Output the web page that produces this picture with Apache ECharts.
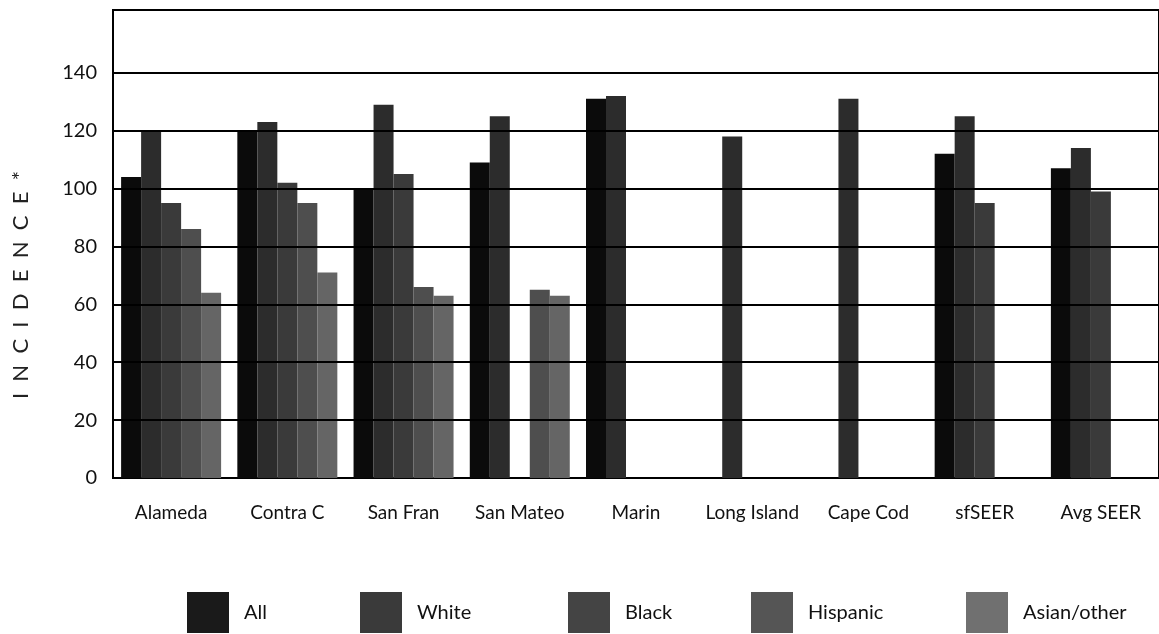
<!DOCTYPE html>
<html>
<head>
<meta charset="utf-8">
<script src="https://cdn.jsdelivr.net/npm/echarts@6/dist/echarts.min.js"></script>
<style>
html,body{margin:0;padding:0;background:#fff;}
#chart{width:1159px;height:634px;}
</style>
</head>
<body>
<div id="chart"></div>
<script>
const categories = ['Alameda', 'Contra C', 'San Fran', 'San Mateo', 'Marin', 'Long Island', 'Cape Cod', 'sfSEER', 'Avg SEER'];
const seriesNames = ['All', 'White', 'Black', 'Hispanic', 'Asian/other'];
const allVals      = [104, 120, 100, 109, 131, null, null, 112, 107];
const whiteVals    = [120, 123, 129, 125, 132, 118, 131, 125, 114];
const blackVals    = [95, 102, 105, null, null, null, null, 95, 99];
const hispanicVals = [86, 95, 66, 65, null, null, null, null, null];
const asianVals    = [64, 71, 63, 63, null, null, null, null, null];
const gridTicks    = [20, 40, 60, 80, 100, 120, 140];
const yTickLabels  = [0, 20, 40, 60, 80, 100, 120, 140];

const seriesData = [allVals, whiteVals, blackVals, hispanicVals, asianVals];
const colors = ['#0b0b0b', '#2c2c2c', '#3a3a3a', '#4e4e4e', '#656565'];
const legendColors = ['#1a1a1a', '#3a3a3a', '#444444', '#555555', '#707070'];
const legendLeft = [182, 355, 563, 746, 961];

const chart = echarts.init(document.getElementById('chart'));
const font = 'Lato, "Open Sans", sans-serif';

const series = seriesNames.map((name, i) => ({
  name: name,
  type: 'bar',
  data: seriesData[i].map(v => v === null ? '-' : v),
  barWidth: 20,
  barGap: '0%',
  itemStyle: { color: colors[i] },
  z: 3,
  silent: true
}));
series.push({
  name: 'grid',
  type: 'line',
  data: [],
  z: 1,
  silent: true,
  markLine: {
    silent: true,
    symbol: ['none', 'none'],
    label: { show: false },
    lineStyle: { color: '#000', width: 2, type: 'solid' },
    data: gridTicks.map(v => ({ yAxis: v }))
  }
});

chart.setOption({
  animation: false,
  backgroundColor: '#fff',
  grid: {
    left: 113, right: -5, top: 10, bottom: 156,
    show: true, borderColor: '#000', borderWidth: 2, backgroundColor: 'transparent'
  },
  xAxis: {
    type: 'category',
    data: categories,
    axisLine: { show: true, lineStyle: { color: '#000', width: 2 } },
    axisTick: { show: false },
    axisLabel: { color: '#111', fontSize: 19, fontFamily: font, margin: 25, interval: 0, hideOverlap: false }
  },
  yAxis: {
    type: 'value',
    min: 0,
    max: 161.7,
    interval: 20,
    axisLine: { show: true, lineStyle: { color: '#000', width: 2 } },
    axisTick: { show: false },
    splitLine: { show: false },
    axisLabel: {
      color: '#111', fontSize: 20, fontFamily: font, margin: 16,
      formatter: v => (yTickLabels.indexOf(v) >= 0 ? String(v) : '')
    }
  },
  legend: seriesNames.map((n, i) => ({
    data: [{ name: n, itemStyle: { color: legendColors[i] } }],
    left: legendLeft[i],
    top: 587,
    itemWidth: 42,
    itemHeight: 41,
    icon: 'rect',
    selectedMode: false,
    textStyle: { color: '#111', fontSize: 20, fontFamily: font, padding: [0, 0, 0, 10] }
  })),
  graphic: [{
    type: 'text',
    x: 21,
    y: 285,
    rotation: Math.PI / 2,
    style: {
      text: 'I  N  C  I  D  E  N  C  E  *',
      align: 'center',
      verticalAlign: 'middle',
      fontSize: 22,
      fontFamily: font,
      fill: '#222'
    }
  }],
  series: series
});
</script>
</body>
</html>
